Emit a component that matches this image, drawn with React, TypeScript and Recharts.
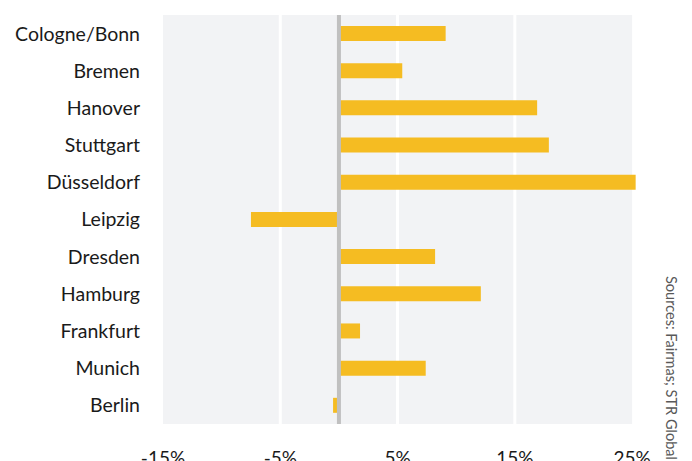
import React from 'react';
import {
  BarChart,
  Bar,
  XAxis,
  YAxis,
  ReferenceArea,
  ReferenceLine,
} from 'recharts';

const cities = [
  'Cologne/Bonn',
  'Bremen',
  'Hanover',
  'Stuttgart',
  'Düsseldorf',
  'Leipzig',
  'Dresden',
  'Hamburg',
  'Frankfurt',
  'Munich',
  'Berlin',
];

const changes = [9.1, 5.4, 16.9, 17.9, 25.3, -7.5, 8.2, 12.1, 1.8, 7.4, -0.5];

const xTicks = [-15, -5, 5, 15, 25];
const gridLines = [-5, 5, 15];

const data = cities.map((city, i) => ({ city, change: changes[i] }));

const FONT = 'Lato, "Open Sans", sans-serif';

export default function App() {
  return (
    <div
      style={{
        position: 'fixed',
        top: 0,
        left: 0,
        width: 692,
        height: 461,
        overflow: 'hidden',
        background: '#fff',
        fontFamily: FONT,
      }}
    >
      <BarChart
        width={692}
        height={461}
        data={data}
        layout="vertical"
        margin={{ top: 15, right: 54, left: 0, bottom: 0 }}
        barSize={15}
      >
        {/* grey panel + white gridlines, kept under the bars */}
        <ReferenceArea
          x1={-15}
          x2={25}
          fill="#f2f3f5"
          fillOpacity={1}
          stroke="none"
          zIndex={-90}
        />
        {gridLines.map((g) => (
          <ReferenceLine key={g} x={g} stroke="#ffffff" strokeWidth={3} zIndex={-80} />
        ))}
        <XAxis
          type="number"
          domain={[-15, 25.5]}
          ticks={xTicks}
          allowDataOverflow
          tickFormatter={(v) => `${v}%`}
          axisLine={false}
          tickLine={false}
          tickSize={0}
          tickMargin={28}
          height={37}
          interval={0}
          tick={{ fill: '#1a1a1a', fontSize: 19, fontFamily: FONT }}
        />
        <YAxis
          type="category"
          dataKey="city"
          width={163}
          axisLine={false}
          tickLine={false}
          tickSize={0}
          tickMargin={23}
          interval={0}
          tick={{ fill: '#1a1a1a', fontSize: 19.5, fontFamily: FONT }}
        />
        <Bar dataKey="change" fill="#f5bc22" isAnimationActive={false} />
        <ReferenceLine x={0} stroke="#c0c0c0" strokeWidth={4} />
      </BarChart>
      <svg
        width={692}
        height={461}
        style={{ position: 'absolute', top: 0, left: 0, pointerEvents: 'none' }}
      >
        <text
          transform="translate(672, 276) rotate(90)"
          fontSize={15}
          fill="#595959"
          fontFamily={FONT}
          dominantBaseline="central"
          textLength={184}
          lengthAdjust="spacingAndGlyphs"
        >
          Sources: Fairmas; STR Global
        </text>
      </svg>
    </div>
  );
}
